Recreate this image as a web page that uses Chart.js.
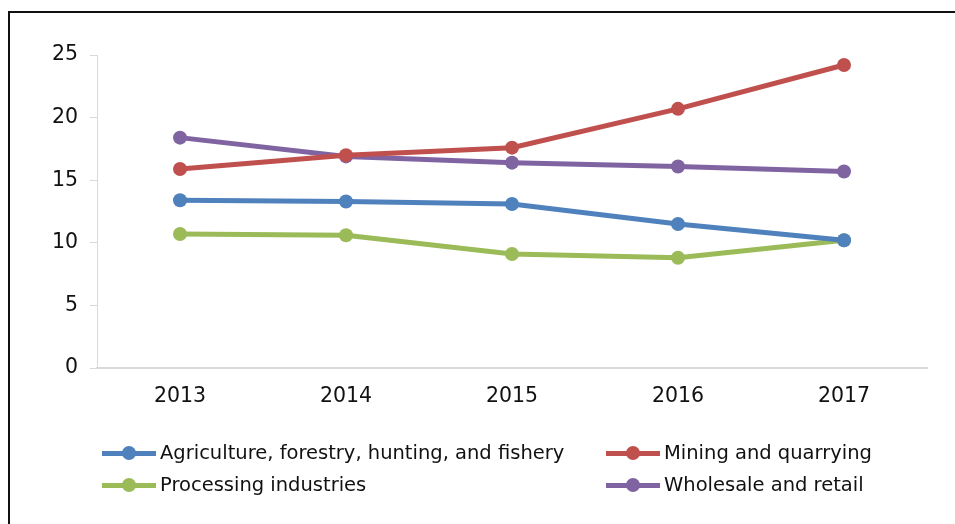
<!DOCTYPE html>
<html><head><meta charset="utf-8">
<script src="https://cdn.jsdelivr.net/npm/chart.js@4"></script>
<style>
html,body{margin:0;padding:0;background:#fff;}
#wrap{position:relative;width:955px;height:524px;overflow:hidden;}
#frame{position:absolute;left:8px;top:11px;width:960px;height:540px;border-top:2px solid #111;border-left:2px solid #111;box-sizing:border-box;}
canvas{position:absolute;left:0;top:0;}
#legend{position:absolute;left:0;top:0;width:955px;height:524px;font-family:"DejaVu Sans",Arial,sans-serif;font-size:19.5px;color:#111;}
.item{position:absolute;display:flex;align-items:center;white-space:nowrap;}
.mk{position:relative;width:54px;height:20px;margin-right:4px;}
.mk .ln{position:absolute;left:0;top:8px;width:54px;height:5px;}
.mk .dt{position:absolute;left:20px;top:3px;width:14px;height:14px;border-radius:50%;}
</style></head>
<body><div id="wrap"><div id="frame"></div><canvas id="c" width="955" height="524"></canvas><div id="legend"></div></div>
<script>
const years = ["2013","2014","2015","2016","2017"];
const agriculture = [13.4, 13.3, 13.1, 11.5, 10.2];
const mining = [15.9, 17.0, 17.6, 20.7, 24.2];
const processing = [10.7, 10.6, 9.1, 8.8, 10.2];
const wholesale = [18.4, 16.9, 16.4, 16.1, 15.7];
const seriesNames = ["Agriculture, forestry, hunting, and fishery","Mining and quarrying","Processing industries","Wholesale and retail"];
const colors = ["#4F81BD","#C0504D","#9BBB59","#8064A2"];
const seriesData = [agriculture, mining, processing, wholesale];

const datasets = seriesData.map((d,i)=>({
  label: seriesNames[i], data: d, borderColor: colors[i], backgroundColor: colors[i],
  borderWidth: 5, pointRadius: 7, pointHoverRadius: 7, pointBorderWidth: 0, tension: 0
}));
const font = {family:'"DejaVu Sans", Arial, sans-serif', size: 20.5};
new Chart(document.getElementById('c'), {
  type:'line',
  data:{labels: years, datasets},
  options:{
    responsive:false, animation:false,
    layout:{padding:{left:0, top:55, right:28, bottom:0}},
    plugins:{legend:{display:false}, tooltip:{enabled:false}},
    scales:{
      x:{
        offset:true,
        grid:{display:true, drawOnChartArea:false, drawTicks:false, color:'#d9d9d9'},
        border:{color:'#d9d9d9', width:2},
        ticks:{color:'#111', font, padding:16},
        afterFit:(s)=>{s.height = 156;}
      },
      y:{
        min:0, max:25,
        ticks:{stepSize:5, color:'#111', font, padding:12},
        grid:{drawOnChartArea:false, drawTicks:true, tickLength:7, color:'#d9d9d9', lineWidth:1},
        border:{color:'#d9d9d9', width:1},
        afterFit:(s)=>{s.width = 97;}
      }
    }
  }
});
const pos = [[102,441],[606,441],[102,473],[606,473]];
const lg = document.getElementById('legend');
seriesNames.forEach((n,i)=>{
  const it = document.createElement('div'); it.className='item';
  it.style.left = pos[i][0]+'px'; it.style.top = pos[i][1]+'px';
  it.innerHTML = '<div class="mk"><div class="ln" style="background:'+colors[i]+'"></div><div class="dt" style="background:'+colors[i]+'"></div></div><span>'+n+'</span>';
  lg.appendChild(it);
});
</script></body></html>
